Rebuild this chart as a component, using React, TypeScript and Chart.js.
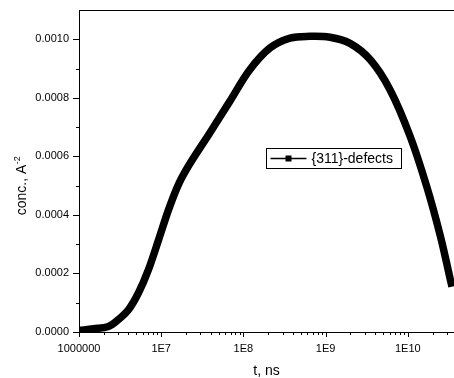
import React, { useEffect, useRef } from 'react';
import { Chart, registerables } from 'chart.js';

Chart.register(...registerables);

// ---- data ----
const times = [
  1e6, 1.5e6, 2.28e6, 3.0e6, 4.0e6, 5.3e6, 7.0e6, 9.3e6, 1.23e7, 1.63e7, 2.2e7,
  3.9e7, 6.8e7, 1.19e8, 2.1e8, 3.7e8, 6.4e8, 1.13e9, 1.98e9, 3.5e9, 6.1e9,
  1.07e10, 1.7e10, 2.5e10, 3.3e10, 3.45e10,
];
const conc = [
  0.0000055, 0.000011, 0.000019, 0.000042, 0.000076, 0.000134, 0.000213, 0.000315,
  0.000418, 0.000505, 0.000572, 0.00068, 0.000787, 0.000895, 0.00097, 0.001004,
  0.00101, 0.001007, 0.000986, 0.00093, 0.000827, 0.000668, 0.000497, 0.000326,
  0.000178, 0.000155,
];
const seriesName = '{311}-defects';
const xTickValues = [1e6, 1e7, 1e8, 1e9, 1e10];
const xTickLabels = ['1000000', '1E7', '1E8', '1E9', '1E10'];
const yTickValues = [0, 0.0002, 0.0004, 0.0006, 0.0008, 0.001];
const yTickLabels = ['0.0000', '0.0002', '0.0004', '0.0006', '0.0008', '0.0010'];
const yMinorValues = [0.0001, 0.0003, 0.0005, 0.0007, 0.0009];
const xMin = 1e6;
const xMax = 3.65e10;
const yMin = 0;
const yMax = 0.0011;
const xTitle = 't, ns';
const yTitleMain = 'conc., A';
const yTitleSup = '-2';

const FONT = "'Liberation Sans', Arial, sans-serif";

const decorPlugin = {
  id: 'decor',
  afterDraw(chart: any) {
    const ctx = chart.ctx as CanvasRenderingContext2D;
    const ca = chart.chartArea;
    const xs = chart.scales.x;
    const ys = chart.scales.y;
    ctx.save();
    ctx.strokeStyle = '#000';
    ctx.fillStyle = '#000';
    ctx.lineWidth = 1;

    // top frame line
    ctx.beginPath();
    ctx.moveTo(ca.left, Math.round(ca.top) + 0.5);
    ctx.lineTo(chart.width, Math.round(ca.top) + 0.5);
    ctx.stroke();

    // x ticks
    const bottom = Math.round(ca.bottom);
    ctx.beginPath();
    xTickValues.forEach((v) => {
      const px = Math.round(xs.getPixelForValue(v)) + 0.5;
      ctx.moveTo(px, bottom);
      ctx.lineTo(px, bottom + 5);
    });
    for (let n = 6; n <= 10; n++) {
      for (let k = 2; k <= 9; k++) {
        const v = k * Math.pow(10, n);
        if (v > xMax) continue;
        const px = Math.round(xs.getPixelForValue(v)) + 0.5;
        ctx.moveTo(px, bottom);
        ctx.lineTo(px, bottom + 3);
      }
    }
    // y ticks
    const left = Math.round(ca.left);
    yTickValues.forEach((v) => {
      const py = Math.round(ys.getPixelForValue(v)) + 0.5;
      ctx.moveTo(left, py);
      ctx.lineTo(left - 6, py);
    });
    yMinorValues.forEach((v) => {
      const py = Math.round(ys.getPixelForValue(v)) + 0.5;
      ctx.moveTo(left, py);
      ctx.lineTo(left - 3, py);
    });
    ctx.stroke();

    // y title with superscript
    const mainSize = 14;
    const supSize = 9;
    ctx.font = `${mainSize}px ${FONT}`;
    const wMain = ctx.measureText(yTitleMain).width;
    ctx.font = `${supSize}px ${FONT}`;
    const wSup = ctx.measureText(yTitleSup).width;
    const total = wMain + wSup;
    ctx.save();
    ctx.translate(26, 186);
    ctx.rotate(-Math.PI / 2);
    ctx.textBaseline = 'alphabetic';
    ctx.textAlign = 'left';
    ctx.font = `${mainSize}px ${FONT}`;
    ctx.fillText(yTitleMain, -total / 2, 0);
    ctx.font = `${supSize}px ${FONT}`;
    ctx.fillText(yTitleSup, -total / 2 + wMain + 0.5, -6.5);
    ctx.restore();

    // legend box
    const bx = 266.5, by = 148.5, bw = 135, bh = 20;
    ctx.lineWidth = 1;
    ctx.strokeRect(bx, by, bw, bh);
    const cy = by + bh / 2;
    ctx.beginPath();
    ctx.lineWidth = 1.3;
    ctx.moveTo(bx + 4, cy);
    ctx.lineTo(bx + 40, cy);
    ctx.stroke();
    ctx.fillRect(bx + 22 - 3, cy - 3, 6, 6);
    ctx.font = `14px ${FONT}`;
    ctx.textBaseline = 'middle';
    ctx.textAlign = 'left';
    ctx.fillText(seriesName, bx + 45, cy + 0.5);

    ctx.restore();
  },
};

export default function App() {
  const canvasRef = useRef<HTMLCanvasElement | null>(null);

  useEffect(() => {
    document.body.style.margin = '0';
    const canvas = canvasRef.current;
    if (!canvas) return;
    const chart = new Chart(canvas, {
      type: 'line',
      data: {
        datasets: [
          {
            label: seriesName,
            data: times.map((t, i) => ({ x: t, y: conc[i] })),
            borderColor: '#000',
            backgroundColor: '#000',
            borderWidth: 7.5,
            pointRadius: 0,
            tension: 0.35,
            fill: false,
            borderCapStyle: 'butt',
          },
        ],
      },
      options: {
        responsive: false,
        animation: false,
        devicePixelRatio: 1,
        layout: { padding: { top: 10, right: 0, bottom: 0, left: 0 } },
        plugins: {
          legend: { display: false },
          tooltip: { enabled: false },
        },
        scales: {
          x: {
            type: 'logarithmic',
            min: xMin,
            max: xMax,
            grid: { display: false, drawTicks: false },
            border: { display: true, color: '#000', width: 1 },
            ticks: {
              autoSkip: false,
              maxRotation: 0,
              minRotation: 0,
              padding: 10,
              color: '#000',
              font: { family: FONT, size: 11 },
              callback: (v: any) => {
                const i = xTickValues.findIndex((t) => Math.abs(t - v) / t < 1e-6);
                return i >= 0 ? xTickLabels[i] : '';
              },
            },
            afterBuildTicks: (s: any) => {
              s.ticks = xTickValues.map((v) => ({ value: v }));
            },
            afterFit: (s: any) => {
              s.height = 46;
              s.paddingLeft = 0;
              s.paddingRight = 0;
            },
            title: {
              display: true,
              text: xTitle,
              color: '#000',
              font: { family: FONT, size: 14, lineHeight: 1 },
              padding: { top: 0, bottom: 0 },
            },
          },
          y: {
            type: 'linear',
            min: yMin,
            max: yMax,
            grid: { display: false, drawTicks: false },
            border: { display: true, color: '#000', width: 1 },
            ticks: {
              autoSkip: false,
              padding: 10,
              color: '#000',
              font: { family: FONT, size: 11 },
              callback: (v: any) => {
                const i = yTickValues.findIndex((t) => Math.abs(t - v) < 1e-9);
                return i >= 0 ? yTickLabels[i] : '';
              },
            },
            afterBuildTicks: (s: any) => {
              s.ticks = yTickValues.map((v) => ({ value: v }));
            },
            afterFit: (s: any) => {
              s.width = 79;
              s.paddingTop = 0;
              s.paddingBottom = 0;
            },
          },
        },
      } as any,
      plugins: [decorPlugin],
    });
    return () => chart.destroy();
  }, []);

  return (
    <div style={{ width: 454, height: 378 }}>
      <canvas ref={canvasRef} width={454} height={378} style={{ display: 'block' }} />
    </div>
  );
}
